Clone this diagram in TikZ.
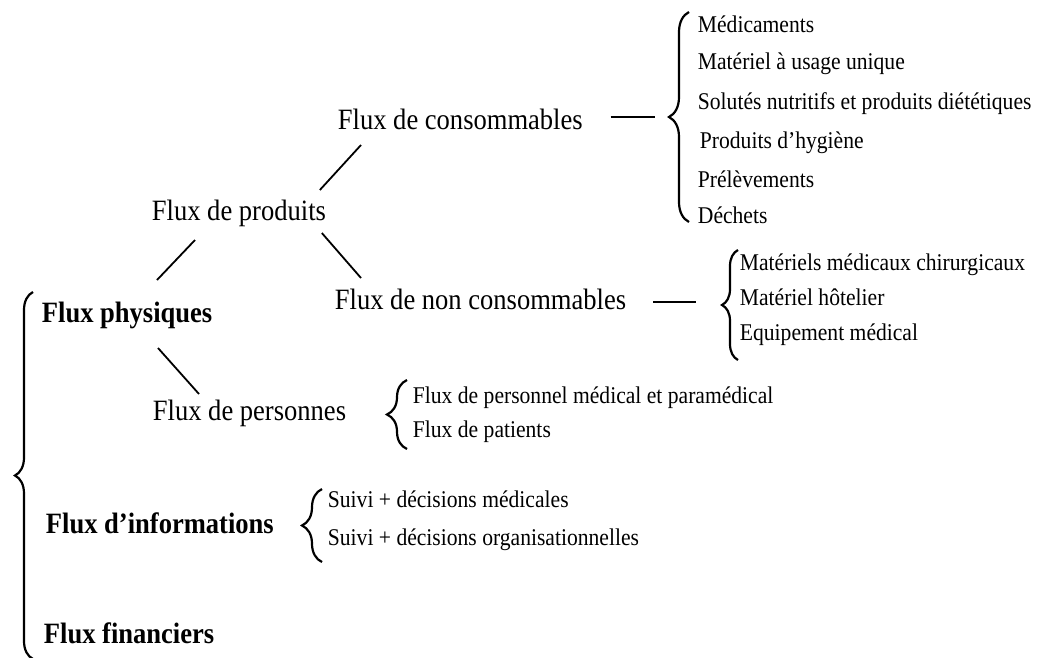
\documentclass[tikz,border=0pt]{standalone}
\usepackage{fontspec}
\setmainfont{Liberation Serif}[FakeStretch=0.9]
\usepackage{tikz}
\usetikzlibrary{calc,decorations.pathreplacing}
\tikzstyle{flux}=[inner sep=0pt,anchor=base west,font=\fontsize{29.5}{32}\selectfont]
\tikzstyle{fluxbf}=[flux,font=\fontsize{29.5}{32}\selectfont\bfseries]
\tikzstyle{item}=[inner sep=0pt,anchor=base west,font=\fontsize{24}{26}\selectfont]
\tikzset{accol/.style={decorate,decoration={brace,amplitude=#1},line width=2.2pt},accol/.default=18pt}

\begin{document}
\begin{tikzpicture}[x=1pt,y=-1pt,line width=1.8pt]
    \useasboundingbox (0,0) rectangle (1052,657);
    % main flows
    \node [fluxbf] (phys) at (41,322) {Flux physiques};
    \node [fluxbf] (info) at (45,533) {Flux d’informations};
    \node [fluxbf] (fin) at (43,643) {Flux financiers};
    \draw [accol] (33,659) -- (33,292);
    % physical flows
    \node [flux] (prod) at (151,220) {Flux de produits};
    \node [flux] (pers) at (152,420) {Flux de personnes};
    \node [flux] (cons) at (337,129) {Flux de consommables};
    \node [flux] (noncons) at (334,309) {Flux de non consommables};
    \draw ([shift={(116,-42)}]phys.base west) -- ([shift={(44,20)}]prod.base west);
    \draw ([shift={(117,26)}]phys.base west) -- ([shift={(47,-26)}]pers.base west);
    \draw ([shift={(-7,-30)}]prod.base east) -- ([shift={(24,16)}]cons.base west);
    \draw ([shift={(-5,13)}]prod.base east) -- ([shift={(27,-31)}]noncons.base west);
    % consommables
    \draw [accol=20pt] (689,222) -- (689,12);
    \coordinate (consbr) at (669,117);
    \draw ([shift={(27,-12)}]cons.base east) -- ([xshift=-14]consbr);
    \node [item] (med) at (697,32) {Médicaments};
    \node [item] (mat) at (697,69) {Matériel à usage unique};
    \node [item] (sol) at (697,109) {Solutés nutritifs et produits diététiques};
    \node [item] (hyg) at (699,148) {Produits d’hygiène};
    \node [item] (prel) at (697,187) {Prélèvements};
    \node [item] (dech) at (697,223) {Déchets};
    % non consommables
    \draw [accol=16pt] (738,360) -- (738,250);
    \coordinate (noncbr) at (722,305);
    \draw ([shift={(26,-7)}]noncons.base east) -- ([shift={(-26,-3)}]noncbr);
    \node [item] (mmc) at (739,270) {Matériels médicaux chirurgicaux};
    \node [item] (hot) at (739,305) {Matériel hôtelier};
    \node [item] (equip) at (739,340) {Equipement médical};
    % personnes
    \draw [accol=20pt] (407,449) -- (407,380);
    \node [item] (perso) at (412,403) {Flux de personnel médical et paramédical};
    \node [item] (pat) at (412,437) {Flux de patients};
    % informations
    \draw [accol=20pt] (322,562) -- (322,489);
    \node [item] (suivmed) at (327,507) {Suivi + décisions médicales};
    \node [item] (suivorg) at (327,545) {Suivi + décisions organisationnelles};
\end{tikzpicture}
\end{document}
